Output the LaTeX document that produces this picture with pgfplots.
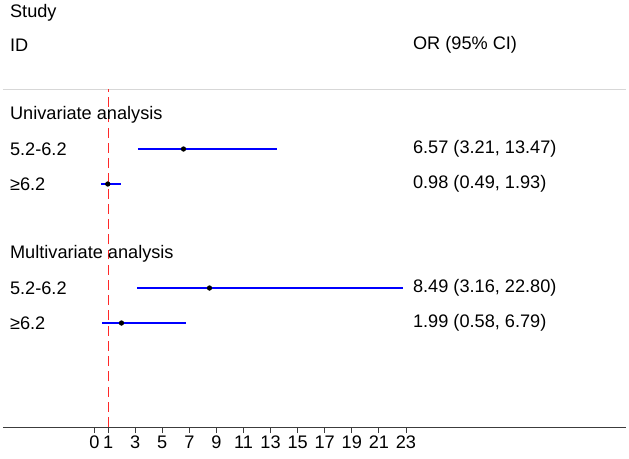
\documentclass[border=0pt]{standalone}
\usepackage{pgfplots}
\pgfplotsset{compat=1.18}
\usepackage{fontspec}
\setmainfont{Liberation Sans}
\definecolor{CIBlue}{RGB}{0,0,255}
\definecolor{NullRed}{RGB}{255,40,40}
\definecolor{SepGray}{RGB}{215,215,215}
\definecolor{AxisGray}{RGB}{60,60,60}
\begin{document}
\begin{tikzpicture}[font=\fontsize{15.5}{18}\selectfont]
\begin{axis}[
    scale only axis,
    width=18.69cm, height=12.81cm,
    xmin=-6.76, xmax=39.25,
    ymin=31, ymax=458,
    clip=false,
    axis x line*=bottom,
    axis y line=none,
    axis line style={AxisGray, line width=0.9pt, -},
    xtick={0,1,3,5,7,9,11,13,15,17,19,21,23},
    tick align=outside,
    major tick length=0.18cm,
    tick style={AxisGray, line width=0.8pt},
    xticklabel style={font=\fontsize{15.5}{18}\selectfont, inner sep=2pt},
    /pgf/number format/assume math mode=true,
]
% full canvas, 629 x 458 px
\path (axis cs:-6.98,0) rectangle (axis cs:39.47,458);
% separator and null line
\addplot[SepGray, line width=0.8pt] coordinates {(-6.76,369) (39.25,369)};
\addplot[NullRed, line width=0.8pt, dash pattern=on 8.5pt off 4.5pt] coordinates {(1,31) (1,369)};
% confidence intervals
\addplot[CIBlue, line width=1.7pt] coordinates {(3.21,309) (13.47,309)};
\addplot[CIBlue, line width=1.7pt] coordinates {(0.49,274) (1.93,274)};
\addplot[CIBlue, line width=1.7pt] coordinates {(3.16,170) (22.80,170)};
\addplot[CIBlue, line width=1.7pt] coordinates {(0.58,135) (6.79,135)};
% point estimates
\addplot[only marks, mark=*, mark size=2pt, black] coordinates {(6.57,309) (0.98,274) (8.49,170) (1.99,135)};
% text columns
\node[anchor=west] at (axis cs:-6.54,445) {Study};
\node[anchor=west] at (axis cs:-6.54,413) {ID};
\node[anchor=west] at (axis cs:23.22,413) {OR (95\% CI)};
\node[anchor=west] at (axis cs:-6.54,343) {Univariate analysis};
\node[anchor=west] at (axis cs:-6.54,309) {5.2-6.2};
\node[anchor=west] at (axis cs:-6.54,274) {≥6.2};
\node[anchor=west] at (axis cs:-6.54,204) {Multivariate analysis};
\node[anchor=west] at (axis cs:-6.54,170) {5.2-6.2};
\node[anchor=west] at (axis cs:-6.54,135) {≥6.2};
\node[anchor=west] at (axis cs:23.22,309) {6.57 (3.21, 13.47)};
\node[anchor=west] at (axis cs:23.22,274) {0.98 (0.49, 1.93)};
\node[anchor=west] at (axis cs:23.22,170) {8.49 (3.16, 22.80)};
\node[anchor=west] at (axis cs:23.22,135) {1.99 (0.58, 6.79)};
\end{axis}
\end{tikzpicture}
\end{document}
